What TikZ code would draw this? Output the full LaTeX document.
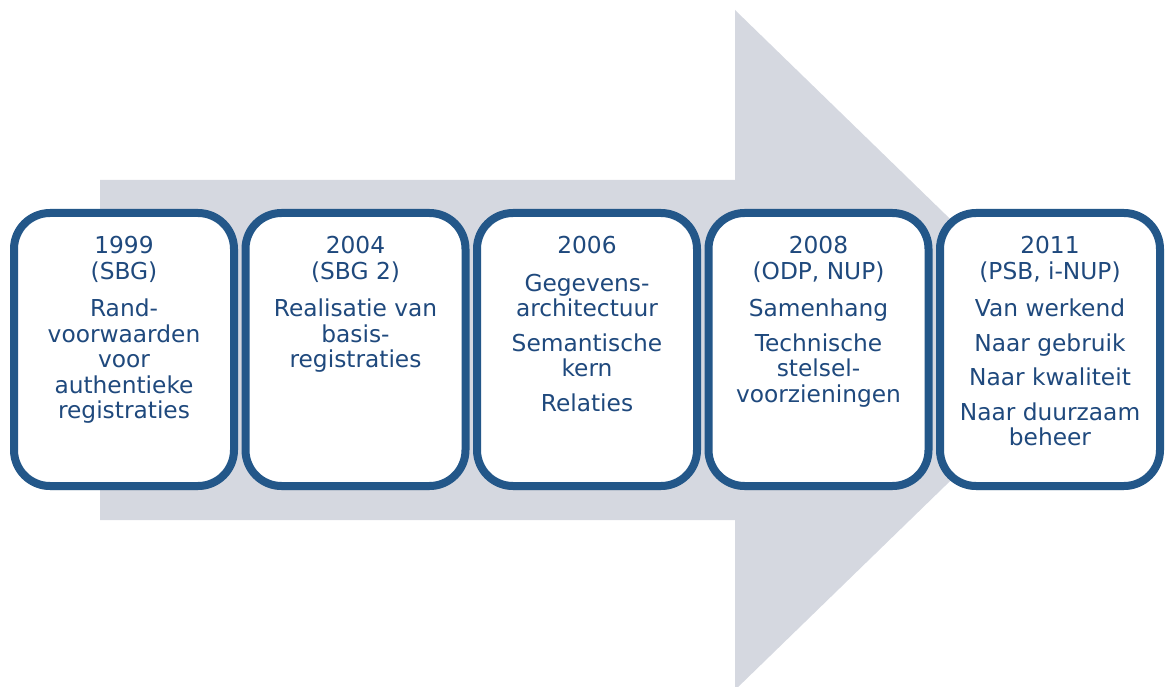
\documentclass[tikz,border=0pt]{standalone}
\usepackage{fontspec}
\setmainfont{DejaVu Sans}
\usetikzlibrary{shadows}
\definecolor{stepblue}{RGB}{35,87,137}
\definecolor{steptext}{RGB}{31,73,125}
\definecolor{arrowgray}{RGB}{213,216,224}

\begin{document}
\begin{tikzpicture}
[x=1pt, y=-1pt,
milestone/.style={draw=stepblue, line width=8pt, fill=white, rounded corners=36pt, minimum width=220pt, minimum height=273pt, inner sep=0pt, drop shadow={shadow xshift=0pt, shadow yshift=-4pt, opacity=0.3, fill=black!70}},
milestonetext/.style={steptext, align=center, anchor=north, inner sep=0pt, font=\fontsize{23.3}{25.5}\selectfont}]
\useasboundingbox (0,0) rectangle (1165,687);
\fill[arrowgray] (100,180) -- (735,180) -- (735,10) -- (1085,350) -- (735,690) -- (735,520) -- (100,520) -- cycle;
\node[milestone] (y1999) at (124,349.5) {};
\node[milestone] (y2004) at (355.5,349.5) {};
\node[milestone] (y2006) at (587,349.5) {};
\node[milestone] (y2008) at (818.5,349.5) {};
\node[milestone] (y2011) at (1050,349.5) {};
\node[milestonetext] (t1999) at (124,236.5) {1999\\(SBG)\\[12pt]Rand-\\voorwaarden\\voor\\authentieke\\registraties};
\node[milestonetext] (t2004) at (355.5,236.5) {2004\\(SBG 2)\\[12pt]Realisatie van\\basis-\\registraties};
\node[milestonetext] (t2006) at (587,236.5) {2006\\[12pt]Gegevens-\\architectuur\\[9pt]Semantische\\kern\\[9pt]Relaties};
\node[milestonetext] (t2008) at (818.5,236.5) {2008\\(ODP, NUP)\\[12pt]Samenhang\\[9pt]Technische\\stelsel-\\voorzieningen};
\node[milestonetext] (t2011) at (1050,236.5) {2011\\(PSB, i-NUP)\\[12pt]Van werkend\\[9pt]Naar gebruik\\[9pt]Naar kwaliteit\\[9pt]Naar duurzaam\\beheer};
\end{tikzpicture}
\end{document}
